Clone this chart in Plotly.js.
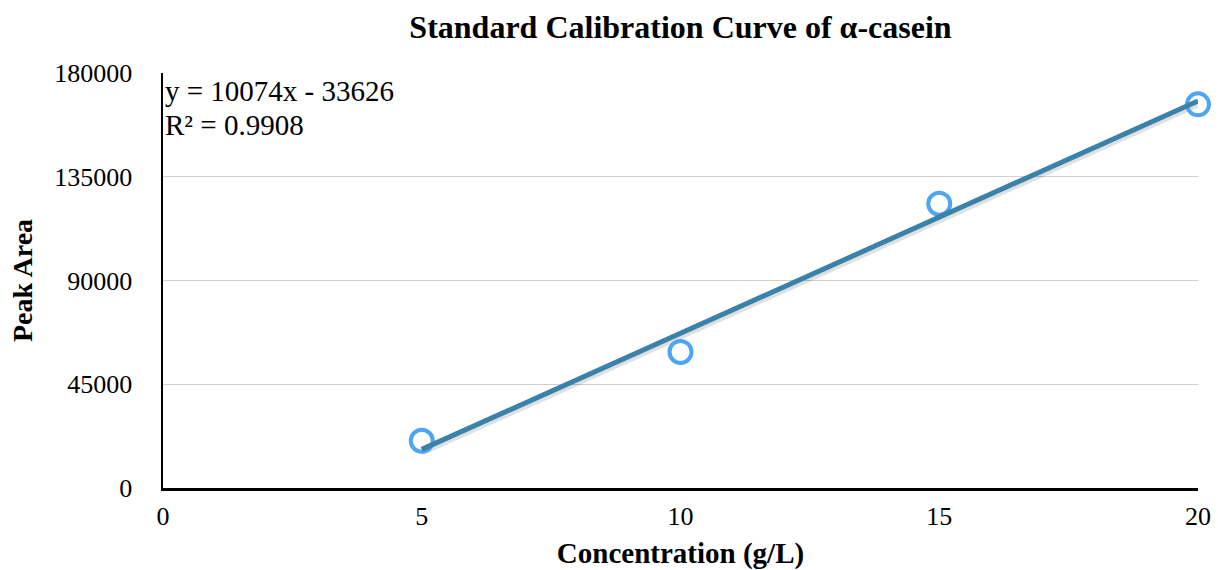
<!DOCTYPE html>
<html><head><meta charset="utf-8">
<script src="https://cdn.plot.ly/plotly-3.0.1.min.js"></script>
<style>html,body{margin:0;padding:0;background:#fff;}#chart{width:1218px;height:570px;}</style>
</head><body><div id="chart"></div>
<script>
const concentration = [5, 10, 15, 20];
const peakArea = [20500, 59000, 123300, 166400];
const slope = 10074;
const intercept = -33626;
const rSquared = 0.9908;
const xTicks = [0, 5, 10, 15, 20];
const yTicks = [0, 45000, 90000, 135000, 180000];

const trendX = [concentration[0], concentration[concentration.length - 1]];
const trendY = trendX.map(x => slope * x + intercept);
const font = 'Liberation Serif, Times New Roman, serif';

const traces = [
  {x: trendX, y: trendY.map(v => v - 1400), mode: 'lines', line: {color: 'rgba(0,0,0,0.12)', width: 6}, hoverinfo: 'skip', showlegend: false, cliponaxis: false},
  {x: concentration, y: peakArea, mode: 'markers', marker: {symbol: 'circle-open', size: 22, color: '#4ea5f2', line: {width: 4, color: '#4ea5f2'}}, showlegend: false, cliponaxis: false},
  {x: trendX, y: trendY, mode: 'lines', line: {color: '#3a82a9', width: 5}, showlegend: false, cliponaxis: false}
];

const layout = {
  width: 1218, height: 570,
  margin: {l: 163, r: 20, t: 73, b: 82},
  paper_bgcolor: '#fff', plot_bgcolor: '#fff',
  font: {family: font, color: '#000', size: 26},
  title: {text: '<b>Standard Calibration Curve of α-casein</b>', font: {family: font, size: 32, color: '#000'}, xref: 'paper', x: 0.5, xanchor: 'center', yref: 'container', y: 0.953, yanchor: 'middle'},
  xaxis: {range: [0, 20], tickvals: xTicks, ticktext: xTicks.map(String), showgrid: false, zeroline: false,
    showline: true, linecolor: '#000', linewidth: 2.5, ticks: 'outside', ticklen: 3, tickcolor: 'rgba(0,0,0,0)',
    tickfont: {family: font, size: 26}, title: {text: '<b>Concentration (g/L)</b>', font: {family: font, size: 29}, standoff: 17}},
  yaxis: {range: [0, 180000], tickvals: yTicks, ticktext: yTicks.map(String), showgrid: true, gridcolor: '#d0d0d0', gridwidth: 1,
    zeroline: false, showline: true, linecolor: '#000', linewidth: 2.5, ticks: 'outside', ticklen: 23, tickcolor: 'rgba(0,0,0,0)',
    tickfont: {family: font, size: 26}, title: {text: '<b>Peak Area</b>', font: {family: font, size: 28}, standoff: 14}},
  annotations: [
    {xref: 'paper', yref: 'paper', x: 0.0, y: 0.956, xanchor: 'left', yanchor: 'middle', align: 'left', showarrow: false,
     text: 'y = ' + slope + 'x - ' + Math.abs(intercept), font: {family: font, size: 29, color: '#000'}},
    {xref: 'paper', yref: 'paper', x: 0.0, y: 0.874, xanchor: 'left', yanchor: 'middle', align: 'left', showarrow: false,
     text: 'R² = ' + rSquared, font: {family: font, size: 29, color: '#000'}}
  ]
};
Plotly.newPlot('chart', traces, layout, {displayModeBar: false, staticPlot: true});
</script></body></html>
